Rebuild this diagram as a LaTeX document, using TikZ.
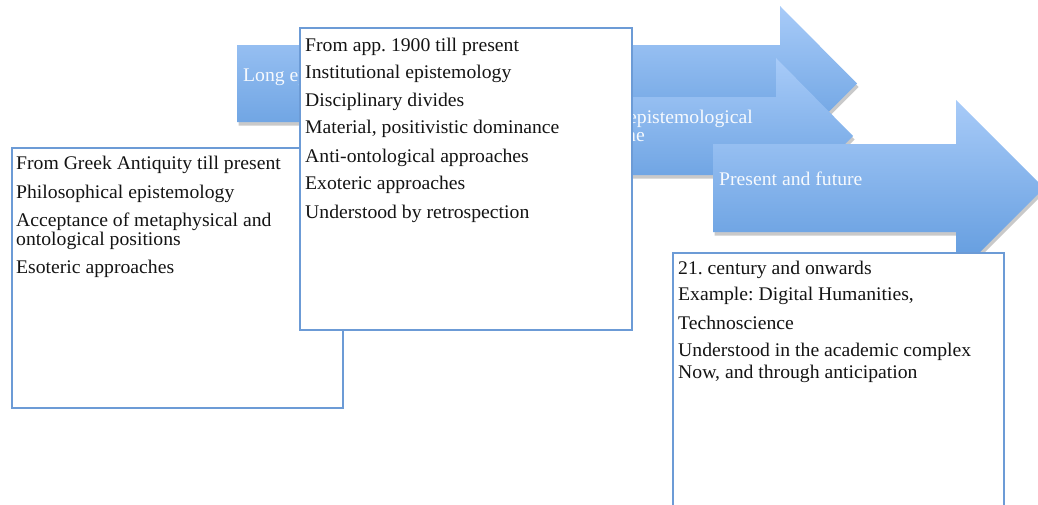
\documentclass[tikz,border=0pt]{standalone}
\usepackage{fontspec}
\setmainfont{Liberation Serif}[FakeStretch=1.02]
\usetikzlibrary{shadows}
\definecolor{arrtop}{RGB}{168,203,248}
\definecolor{arrbot}{RGB}{94,153,221}
\definecolor{boxline}{RGB}{108,155,214}
\definecolor{txtdark}{RGB}{20,20,20}
\tikzset{
  arrowshape/.style={top color=arrtop, bottom color=arrbot, draw=none,
    drop shadow={shadow xshift=1.5pt, shadow yshift=-3.5pt, opacity=0.3, fill=black!70}},
  infobox/.style={draw=boxline, line width=1.6pt, fill=white, rectangle,
    anchor=north west, inner sep=0pt},
  boxtxt/.style={anchor=base west, inner sep=0pt, text=txtdark,
    font=\fontsize{19.3}{22}\selectfont},
  arrtxt/.style={anchor=base west, inner sep=0pt, text=white, text opacity=0.93,
    font=\fontsize{19.3}{22}\selectfont},
}
\begin{document}
\frenchspacing
\begin{tikzpicture}[x=1pt,y=-1pt]
\useasboundingbox (0,0) rectangle (1038,504);
\clip (0,0) rectangle (1038,504);
% arrows
\path[arrowshape] (237,45) -- (780,45) -- (780,6) -- (857,83.5) -- (780,161) -- (780,122) -- (237,122) -- cycle;
\node[arrtxt] (a1t) at (243,81) {Long ep};
\path[arrowshape] (480,97) -- (776,97) -- (776,58) -- (853,136) -- (776,214) -- (776,175) -- (480,175) -- cycle;
\node[arrtxt, anchor=base east] (a2t) at (753,123) {epistemological};
\node[arrtxt, anchor=base east] (a2u) at (645,141) {ne};
\path[arrowshape] (713,144) -- (956,144) -- (956,100) -- (1044,188) -- (956,276) -- (956,232) -- (713,232) -- cycle;
\node[arrtxt] (a3t) at (719,185) {Present and future};
% box 1
\node[infobox, minimum width=331pt, minimum height=260pt] (b1) at (11,147) {};
\foreach \t/\y [count=\i] in {From Greek Antiquity till present/169, Philosophical epistemology/198, Acceptance of metaphysical and/226, ontological positions/245, Esoteric approaches/273}
  \node[boxtxt] (b1l\i) at (16,\y) {\t};
% box 2
\node[infobox, minimum width=332pt, minimum height=302pt] (b2) at (299,27) {};
\foreach \t/\y [count=\i] in {From app. 1900 till present/51, Institutional epistemology/78, Disciplinary divides/106, {Material, positivistic dominance}/133, Anti-ontological approaches/162, Exoteric approaches/189, Understood by retrospection/218}
  \node[boxtxt] (b2l\i) at (305,\y) {\t};
% box 3
\node[infobox, minimum width=331pt, minimum height=280pt] (b3) at (672,252) {};
\foreach \t/\y [count=\i] in {21. century and onwards/274, {Example: Digital Humanities,}/300, Technoscience/329, Understood in the academic complex/356, {Now, and through anticipation}/378}
  \node[boxtxt] (b3l\i) at (678,\y) {\t};
\end{tikzpicture}
\end{document}
